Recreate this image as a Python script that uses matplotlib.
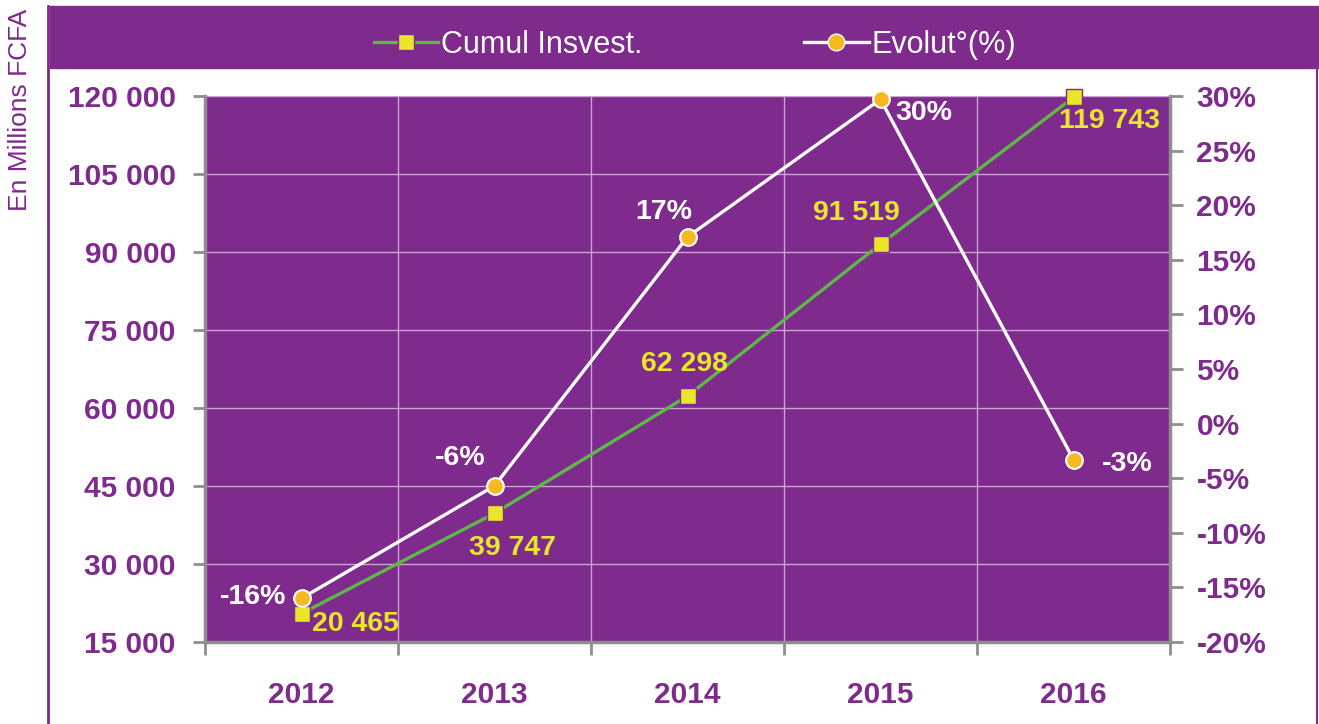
import matplotlib.pyplot as plt
from matplotlib.patches import Rectangle
from matplotlib.lines import Line2D

years = ['2012', '2013', '2014', '2015', '2016']
cumul = [20465, 39747, 62298, 91519, 119743]
evolution = [-16.0, -5.7, 17.1, 29.7, -3.3]
cumul_labels = ['20 465', '39 747', '62 298', '91 519', '119 743']
evol_labels = ['-16%', '-6%', '17%', '30%', '-3%']

# label offsets in pixels (dx, dy)
cumul_off = [(54, -10), (18, -35), (-3, 32), (-24, 31), (36, -24)]
evol_off = [(-48, 1), (-34, 28), (-24, 25), (43, -14), (54, -4)]

purple = '#7f2a8d'
yellow = '#e8e62a'
green = '#5db847'
orange = '#f6b91f'
gray = '#8e8e8e'
gridc = '#c8a6d0'

plt.rcParams['font.family'] = ['Liberation Sans', 'DejaVu Sans']

W, H = 1319, 724
fig = plt.figure(figsize=(W / 100, H / 100), dpi=100)

# frame pieces
fig.patches.append(Rectangle((50 / W, 1 - 68 / H), 1 - 50 / W, 62 / H,
                             transform=fig.transFigure, color=purple, zorder=0))
fig.add_artist(Line2D([48 / W, 48 / W], [0, 1 - 6 / H], transform=fig.transFigure,
                      color=purple, lw=2))
fig.add_artist(Line2D([1316.5 / W, 1316.5 / W], [0, 1 - 68 / H], transform=fig.transFigure,
                      color=purple, lw=1.5))

ax = fig.add_axes([205 / W, 1 - 642 / H, (1170 - 205) / W, (642 - 96) / H])
ax.set_facecolor(purple)
x = list(range(len(years)))

ax.set_xlim(-0.5, 4.5)
ax.set_ylim(15000, 120000)
ax.set_yticks(range(15000, 120001, 15000))
ax.set_yticklabels([f'{v:,}'.replace(',', ' ') for v in range(15000, 120001, 15000)])
ax.set_xticks([i - 0.5 for i in range(len(years) + 1)])
ax.set_xticklabels([])
ax.set_xticks(x, minor=True)
ax.set_xticklabels(years, minor=True)
ax.tick_params(axis='x', which='minor', length=0, pad=28)
ax.tick_params(axis='x', which='major', length=9, width=2, color=gray, direction='out')
ax.tick_params(axis='y', length=9, width=2, color=gray, direction='out', pad=12)
for lab in ax.get_xticklabels(minor=True) + ax.get_yticklabels():
    lab.set_fontsize(21.5)
    lab.set_fontweight('bold')
    lab.set_color(purple)
ax.grid(True, which='major', color=gridc, lw=1)
ax.set_axisbelow(True)
for s in ['top', 'right']:
    ax.spines[s].set_visible(False)
for s in ['left', 'bottom']:
    ax.spines[s].set_color(gray)
    ax.spines[s].set_linewidth(2.5)

ax.plot(x, cumul, color=green, lw=2.4, marker='s', ms=11, mfc=yellow, mec=purple,
        mew=1, zorder=3, clip_on=False)

ax2 = ax.twinx()
ax2.set_ylim(-20, 30)
ax2.set_yticks(range(-20, 31, 5))
ax2.set_yticklabels([f'{v}%' for v in range(-20, 31, 5)])
ax2.tick_params(axis='y', length=9, width=2, color=gray, direction='out', pad=10)
for lab in ax2.get_yticklabels():
    lab.set_fontsize(21.5)
    lab.set_fontweight('bold')
    lab.set_color(purple)
for s in ['top', 'left', 'bottom']:
    ax2.spines[s].set_visible(False)
ax2.spines['right'].set_color(gray)
ax2.spines['right'].set_linewidth(2.5)

ax2.plot(x, evolution, color='white', lw=2.4, marker='o', ms=12, mfc=orange, mec='white',
         mew=1.5, zorder=4, clip_on=False)

for i in x:
    dx, dy = cumul_off[i]
    ax.annotate(cumul_labels[i], (x[i], cumul[i]), xytext=(dx * 0.72, dy * 0.72),
                textcoords='offset points', ha='center', va='center', fontsize=20.5,
                fontweight='bold', color=yellow, zorder=5)
    dx, dy = evol_off[i]
    ax2.annotate(evol_labels[i], (x[i], evolution[i]), xytext=(dx * 0.72, dy * 0.72),
                 textcoords='offset points', ha='center', va='center', fontsize=20.5,
                 fontweight='bold', color='white', zorder=5)

handles = [
    Line2D([], [], color=green, lw=2.4, marker='s', ms=11, mfc=yellow, mec=purple),
    Line2D([], [], color='white', lw=2.4, marker='o', ms=12, mfc=orange, mec='white'),
]
leg = fig.legend(handles, ['Cumul Insvest.', 'Evolut°(%)'], loc='center',
                 bbox_to_anchor=(695 / W, 1 - 45 / H), ncol=2, frameon=False,
                 fontsize=22, handlelength=2.1, handletextpad=0.1, columnspacing=5.3)
for t in leg.get_texts():
    t.set_color('white')

fig.text(20 / W, 1 - 110 / H, 'En Millions FCFA', rotation=90, ha='center', va='center',
         fontsize=19, color=purple)

fig.savefig('out.png', dpi=100)
